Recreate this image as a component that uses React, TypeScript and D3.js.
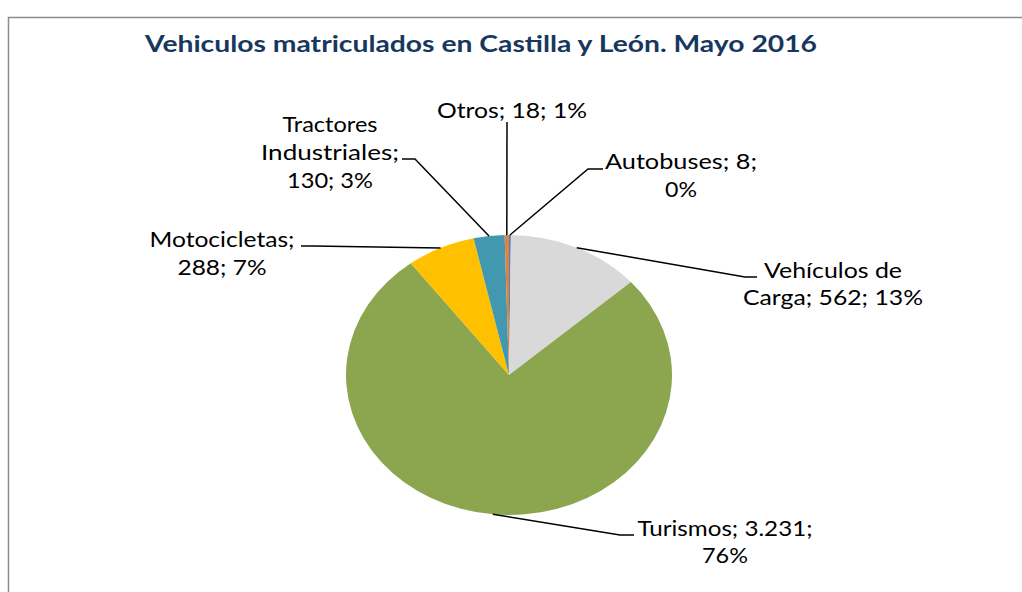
import React from "react";
import * as d3 from "d3";

const categories = ["Autobuses", "Vehículos de Carga", "Turismos", "Motocicletas", "Tractores Industriales", "Otros"];
const values = [8, 562, 3231, 288, 130, 18];
const valueLabels = ["8", "562", "3.231", "288", "130", "18"];
const percentLabels = ["0%", "13%", "76%", "7%", "3%", "1%"];
const colors = ["#4F81BD", "#D9D9D9", "#8BA64F", "#FFC000", "#4198AF", "#E0823D"];

// label text lines (built from the data above)
const labelLines = [
  [`${categories[0]}; ${valueLabels[0]};`, percentLabels[0]],
  ["Vehículos de", `Carga; ${valueLabels[1]}; ${percentLabels[1]}`],
  [`${categories[2]}; ${valueLabels[2]};`, percentLabels[2]],
  [`${categories[3]};`, `${valueLabels[3]}; ${percentLabels[3]}`],
  ["Tractores", "Industriales;", `${valueLabels[4]}; ${percentLabels[4]}`],
  [`${categories[5]}; ${valueLabels[5]}; ${percentLabels[5]}`],
];
// layout: center x, first baseline, line height, line widths, leader elbow and end
const labelPos = [
  { x: 681, y: 169, lh: 28, w: [152, 32], elbow: [588, 169], end: [603, 169] },
  { x: 833, y: 278, lh: 27, w: [138, 180], elbow: [745, 277], end: [757, 277] },
  { x: 725, y: 536, lh: 27, w: [175, 46], elbow: [620, 535], end: [634, 535] },
  { x: 222, y: 247, lh: 28, w: [145, 89], elbow: [313, 246], end: [301, 246] },
  { x: 330, y: 132, lh: 28, w: [95, 138, 86], elbow: [415, 159], end: [402, 159] },
  { x: 512, y: 118, lh: 0, w: [150], elbow: [507, 122], end: [507, 122] },
];

export default function App() {
  const W = 1022, H = 592;
  const cx = 509, cy = 375, rx = 163, ry = 140;
  const pie = d3.pie<number>().sort(null).value((d) => d)(values);
  const arc = d3.arc<d3.PieArcDatum<number>>().innerRadius(0).outerRadius(rx);
  const font = "Lato, 'Open Sans', sans-serif";
  return (
    <svg width={W} height={H} style={{ position: "absolute", left: 0, top: 0, background: "#fff" }}>
      <rect x={8.5} y={17.5} width={1030} height={600} fill="#fff" stroke="#8c8c8c" strokeWidth={1.5} />
      <text x={481} y={52} textAnchor="middle" fontFamily={font} fontWeight="bold" fontSize={22} fill="#17375E"
        textLength={672} lengthAdjust="spacingAndGlyphs">
        Vehiculos matriculados en Castilla y León. Mayo 2016
      </text>
      <g transform={`translate(${cx},${cy}) scale(1,${ry / rx})`}>
        {pie.map((p, i) => (
          <path key={i} d={arc(p) || ""} fill={colors[i]} stroke="none" />
        ))}
      </g>
      {pie.map((p, i) => {
        const a = (p.startAngle + p.endAngle) / 2;
        const ax = cx + rx * Math.sin(a);
        const ay = cy - ry * Math.cos(a);
        const L = labelPos[i];
        return (
          <polyline key={"l" + i}
            points={`${ax},${ay} ${L.elbow[0]},${L.elbow[1]} ${L.end[0]},${L.end[1]}`}
            fill="none" stroke="#000" strokeWidth={1.5} />
        );
      })}
      {labelLines.map((lines, i) =>
        lines.map((s, j) => (
          <text key={"t" + i + "_" + j} x={labelPos[i].x} y={labelPos[i].y + j * labelPos[i].lh}
            textAnchor="middle" fontFamily={font} fontSize={21} fill="#000"
            textLength={labelPos[i].w[j]} lengthAdjust="spacingAndGlyphs">
            {s}
          </text>
        ))
      )}
    </svg>
  );
}
